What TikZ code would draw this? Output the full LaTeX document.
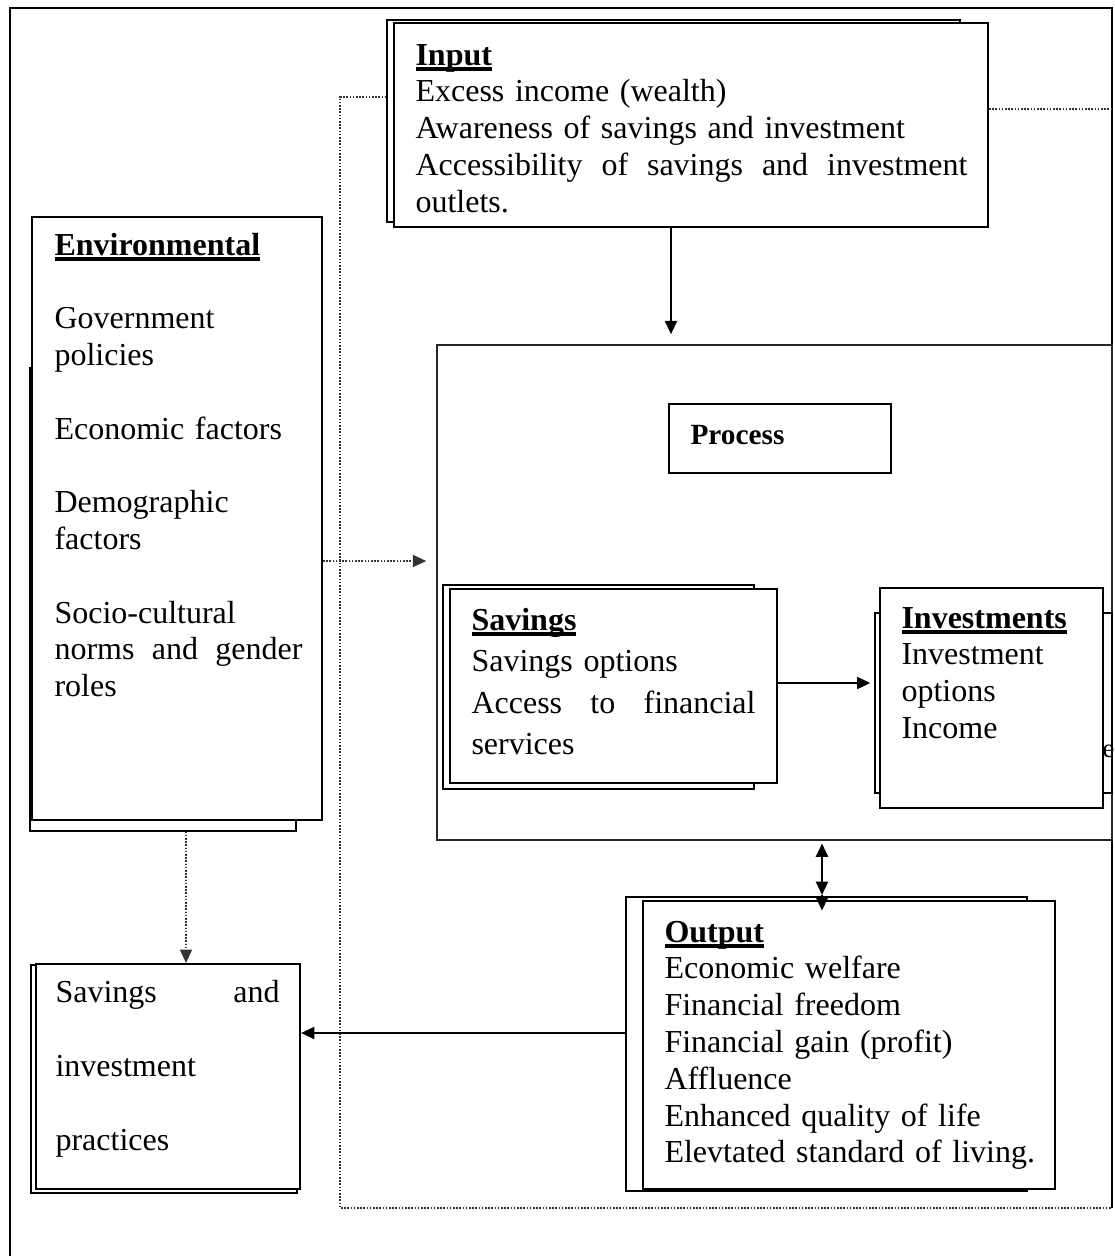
\documentclass[tikz,border=0pt]{standalone}
\usepackage{fontspec}
\setmainfont{Liberation Serif}
\usetikzlibrary{arrows.meta,fit}

% bold heading with a heavy underline
\newcommand{\hd}[1]{\setbox0\hbox{\bfseries #1}\rlap{\rule[-2.1pt]{\wd0}{1.2pt}}\box0}
% one justified line of a given width
\newcommand{\fullline}[2]{\leavevmode\hbox to #1{#2}}

\begin{document}
\begin{tikzpicture}[
  x=0.375pt, y=-0.375pt, % one reference pixel, y downward
  font=\fontsize{12}{13.8}\selectfont,
  back/.style={draw, fill=white, line width=0.5pt, inner sep=0pt},
  front/.style={draw, fill=white, line width=0.8pt, inner sep=0pt},
  txt/.style={inner sep=0pt, anchor=base west, align=left},
  arr/.style={line width=0.8pt, -{Triangle[length=5pt,width=4.5pt]}},
  dots/.style={line width=0.6pt, black!80, dash pattern=on 0.6pt off 0.6pt}
]
  \useasboundingbox (0,0) rectangle (1115,1256);

  % ---- outer frame (open at the bottom) ----
  \draw[line width=0.8pt] (10,1256) -- (10,8) -- (1112,8) -- (1112,1208);

  % ---- process area ----
  \node[fit={(437,345) (1112,840)}, draw, black!85, line width=0.6pt, inner sep=0pt] (process) {};
  \node[fit={(669,404) (891,473)}, front] (proclabel) {};
  \node[txt, font=\fontsize{11}{13}\selectfont\bfseries] (proctxt) at (690,444) {Process};

  % ---- input ----
  \node[fit={(387,20) (960,222)}, back] (inback) {};
  \node[fit={(394,23) (988,227)}, front] (infront) {};
  \node[txt, text width=208pt] (intxt) at (415,65) {\hd{Input}\\
    Excess income (wealth)\\
    Awareness of savings and investment\\
    \fullline{207pt}{Accessibility\hfill of\hfill savings\hfill and\hfill investment}\\
    outlets.};

  % ---- environmental ----
  \node[fit={(30,368) (296,831)}, back] (envback) {};
  \node[fit={(32,217) (322,820)}, front] (envfront) {};
  \node[txt, text width=94pt] (envtxt) at (54,255) {\hd{Environmental}\\[13.8pt]
    Government\\ policies\\[13.8pt]
    Economic factors\\[13.8pt]
    Demographic\\ factors\\[13.8pt]
    Socio-cultural\\ \fullline{93pt}{norms\hfill and\hfill gender}\\ roles};

  % ---- savings ----
  \node[fit={(443,585) (754,789)}, back] (savback) {};
  \node[fit={(450,589) (777,783)}, front] (savfront) {};
  \node[txt, text width=107pt, font=\fontsize{12}{15.6}\selectfont] (savtxt) at (471,630) {\hd{Savings}\\
    Savings options\\
    \fullline{106.5pt}{Access\hfill to\hfill financial}\\
    services};

  % ---- investments ----
  \node[fit={(875,613) (1112,793)}, back] (invback) {};
  \node[txt, font=\fontsize{10}{12}\selectfont] (invhidden) at (1102,757) {e};
  \node[fit={(880,588) (1103,808)}, front] (invfront) {};
  \node[txt, text width=72pt] (invtxt) at (901,628) {\hd{Investments}\\
    Investment\\ options\\ Income};

  % ---- output ----
  \node[fit={(626,897) (1027,1191)}, back] (outback) {};
  \node[fit={(643,901) (1055,1189)}, front] (outfront) {};
  \node[txt, text width=150pt] (outtxt) at (664,942) {\hd{Output}\\
    Economic welfare\\
    Financial freedom\\
    Financial gain (profit)\\
    Affluence\\
    Enhanced quality of life\\
    Elevtated standard of living.};

  % ---- savings and investment practices ----
  \node[fit={(31,965) (297,1193)}, back] (sipback) {};
  \node[fit={(36,964) (300,1189)}, front] (sipfront) {};
  \node[txt, text width=85pt, font=\fontsize{12}{27.75}\selectfont] (siptxt) at (55,1002) {\fullline{84pt}{Savings\hfill and}\\
    investment\\
    practices};

  % ---- helper coordinates for the connectors ----
  \coordinate (inx) at (671,0);
  \coordinate (envy) at (0,561);
  \coordinate (envx) at (186,0);
  \coordinate (savy) at (0,683);
  \coordinate (dbl) at (822,895);
  \coordinate (outy) at (0,1033);
  \coordinate (loopy) at (0,97);
  \coordinate (righty) at (0,109);
  \coordinate (loopbl) at (340,1208);
  \coordinate (loopbr) at (1112,1208);

  % ---- dotted feedback lines ----
  \draw[dots] (inback.west |- loopy) -| (loopbl) -- (loopbr);
  \draw[dots] (infront.east |- righty) -- (1112,109);
  \draw[dots, -{Triangle[length=5pt,width=4.5pt]}, shorten >=3.75pt] (envfront.east |- envy) -- (process.west |- envy);
  \draw[dots, -{Triangle[length=5pt,width=4.5pt]}] (envback.south -| envx) -- (sipfront.north -| envx);

  % ---- solid arrows ----
  \draw[arr, shorten >=3.75pt] (infront.south -| inx) -- (process.north -| inx);
  \draw[arr, shorten >=1.5pt] (savfront.east |- savy) -- (invback.west |- savy);
  \draw[line width=0.8pt, {Triangle[length=5pt,width=4.5pt]}-{Triangle[length=5pt,width=4.5pt]}, shorten <=1pt] (process.south -| dbl) -- (dbl);
  \draw[arr] (dbl) -- ([yshift=-4pt]outfront.north -| dbl);
  \draw[arr] (outback.west |- outy) -- (sipfront.east |- outy);

\end{tikzpicture}
\end{document}
